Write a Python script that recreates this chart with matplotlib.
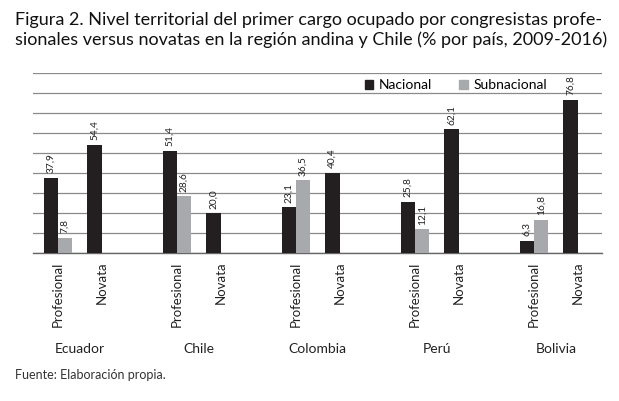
import matplotlib.pyplot as plt
import numpy as np
from matplotlib.patches import Patch
from matplotlib.transforms import blended_transform_factory

# data
paises = ['Ecuador', 'Chile', 'Colombia', 'Perú', 'Bolivia']
tipos = ['Profesional', 'Novata']
nacional_prof = [37.9, 51.4, 23.1, 25.8, 6.3]
subnac_prof = [7.8, 28.6, 36.5, 12.1, 16.8]
nacional_nov = [54.4, 20.0, 40.4, 62.1, 76.8]
subnac_nov = [0, 0, 0, 0, 0]

negro = '#231f20'
gris = '#a7a9ac'
fuente = 'Lato'

fig = plt.figure(figsize=(6.19, 4.01), dpi=100)
ax = fig.add_axes([33/619, 1 - 253.3/401, 569/619, 180/401])

w = 0.12
off_nov = 0.366
x = np.arange(len(paises))

def etiquetas(pos, vals):
    for xi, v in zip(pos, vals):
        if v == 0:
            continue
        ax.text(xi, v + 2.2, f'{v:.1f}'.replace('.', ','), rotation=90,
                ha='center', va='bottom', fontsize=7.3, family=fuente, color='#222222')

# profesional
ax.bar(x - w/2, nacional_prof, w, color=negro, zorder=3)
ax.bar(x + w/2, subnac_prof, w, color=gris, zorder=3)
# novata
ax.bar(x + off_nov - w/2, nacional_nov, w, color=negro, zorder=3)
ax.bar(x + off_nov + w/2, subnac_nov, w, color=gris, zorder=3)

etiquetas(x - w/2, nacional_prof)
etiquetas(x + w/2, subnac_prof)
etiquetas(x + off_nov - w/2, nacional_nov)
etiquetas(x + off_nov + w/2, subnac_nov)

ax.set_ylim(0, 90)
ax.set_xlim(-0.21, 4.571)
ax.set_yticks(np.arange(0, 91, 10))
ax.yaxis.grid(True, color='#8a8a8a', linewidth=0.9)
ax.set_axisbelow(True)
ax.tick_params(axis='y', length=0, labelleft=False)
for s in ['top', 'right', 'left']:
    ax.spines[s].set_visible(False)
ax.spines['bottom'].set_color('#666666')
ax.spines['bottom'].set_linewidth(1.0)

ticks = np.concatenate([[xi, xi + off_nov] for xi in x])
ax.set_xticks(ticks)
ax.set_xticklabels(tipos * len(paises), rotation=90, va='top', ha='center',
                   fontsize=9.5, family=fuente, color='#222222')
ax.tick_params(axis='x', length=0, pad=6)

tr = blended_transform_factory(ax.transData, fig.transFigure)
for xi, p in zip(x, paises):
    ax.text(xi + off_nov/2, 1 - 349/401, p, transform=tr, ha='center', va='center',
            fontsize=10, family=fuente, color='#222222')

handles = [Patch(color=negro, label='Nacional'), Patch(color=gris, label='Subnacional')]
leg = ax.legend(handles=handles, loc='center', bbox_to_anchor=(0.743, 0.935), ncol=2,
                frameon=False, handlelength=0.6, handleheight=0.6, handletextpad=0.4,
                columnspacing=2.0, prop={'family': fuente, 'size': 10})

fig.text(15/619, 1 - 20/401, 'Figura 2. Nivel territorial del primer cargo ocupado por congresistas profe-',
         fontsize=13, family=fuente, va='center', ha='left', color='#111111')
fig.text(15/619, 1 - 40/401, 'sionales versus novatas en la región andina y Chile (% por país, 2009-2016)',
         fontsize=13, family=fuente, va='center', ha='left', color='#111111')
fig.text(15/619, 1 - 375/401, 'Fuente: Elaboración propia.', fontsize=9, family=fuente,
         va='center', ha='left', color='#333333')

plt.savefig('out.png', dpi=100)
